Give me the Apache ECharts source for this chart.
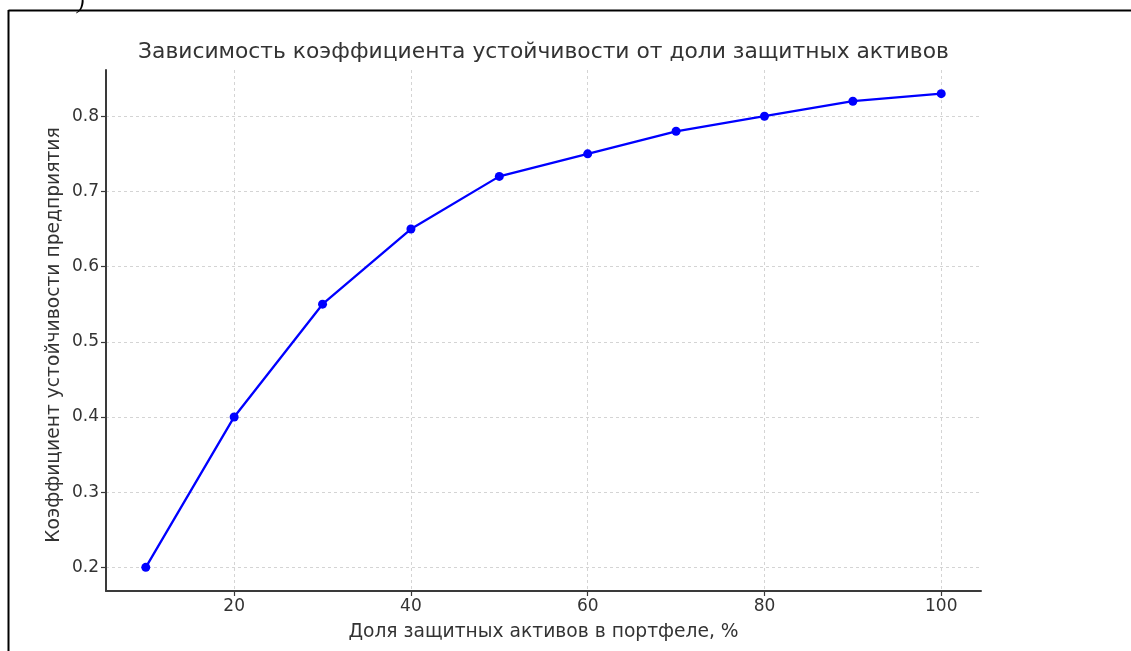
<!DOCTYPE html>
<html>
<head>
<meta charset="utf-8">
<script src="https://cdn.jsdelivr.net/npm/echarts@6/dist/echarts.min.js"></script>
<style>
html,body{margin:0;padding:0;background:#fff;}
#chart{width:1131px;height:651px;}
</style>
</head>
<body>
<div id="chart"></div>
<script>
// Data
var shareX = [10, 20, 30, 40, 50, 60, 70, 80, 90, 100];
var stabilityY = [0.20, 0.40, 0.55, 0.65, 0.72, 0.75, 0.78, 0.80, 0.82, 0.83];
var xTicks = [20, 40, 60, 80, 100];
var yTicks = [0.2, 0.3, 0.4, 0.5, 0.6, 0.7, 0.8];

var titleText = 'Зависимость коэффициента устойчивости от доли защитных активов';
var xName = 'Доля защитных активов в портфеле, %';
var yName = 'Коэффициент устойчивости предприятия';

var FONT = '"DejaVu Sans", sans-serif';
var chart = echarts.init(document.getElementById('chart'), null, {renderer: 'canvas'});

var gridLeft = 106, gridTop = 70, gridRight = 150, gridBottom = 60;

var points = shareX.map(function (x, i) { return [x, stabilityY[i]]; });

var option = {
  backgroundColor: '#fff',
  animation: false,
  grid: {left: gridLeft, top: gridTop, right: gridRight, bottom: gridBottom, containLabel: false},
  xAxis: {
    type: 'value',
    min: 5.5,
    max: 104.5,
    axisLine: {show: true, onZero: false, lineStyle: {color: '#3a3a3a', width: 2}},
    axisTick: {show: true, length: 5, lineStyle: {color: '#3a3a3a', width: 1.2}, customValues: xTicks},
    axisLabel: {
      customValues: xTicks,
      color: '#333', fontFamily: FONT, fontSize: 17, margin: 7,
      formatter: function (v) { return String(Math.round(v)); }
    },
    splitLine: {show: true, lineStyle: {color: '#d4d4d4', type: [3, 3], width: 1}}
  },
  yAxis: {
    type: 'value',
    min: 0.1685,
    max: 0.8615,
    axisLine: {show: true, onZero: false, lineStyle: {color: '#3a3a3a', width: 2}},
    axisTick: {show: true, length: 5, lineStyle: {color: '#3a3a3a', width: 1.2}, customValues: yTicks},
    axisLabel: {
      customValues: yTicks,
      color: '#333', fontFamily: FONT, fontSize: 17, margin: 7,
      formatter: function (v) { return v.toFixed(1); }
    },
    splitLine: {show: true, lineStyle: {color: '#d4d4d4', type: [3, 3], width: 1}}
  },
  series: [{
    type: 'line',
    data: points,
    symbol: 'circle',
    symbolSize: 9,
    showSymbol: true,
    lineStyle: {color: '#0000ff', width: 2.3},
    itemStyle: {color: '#0000ff'},
    z: 5
  }],
  graphic: [
    {type: 'line', shape: {x1: 8.5, y1: 10.5, x2: 1131, y2: 10.5}, style: {stroke: '#000', lineWidth: 2}},
    {type: 'line', shape: {x1: 8.5, y1: 10, x2: 8.5, y2: 651}, style: {stroke: '#000', lineWidth: 2}},
    {type: 'text', x: 77, y: -8, style: {text: ')', font: 'italic 22px "Liberation Serif", serif', fill: '#000'}},
    {type: 'text', x: 543.5, y: 52, style: {text: titleText, font: '21.8px ' + FONT, fill: '#333', textAlign: 'center', textVerticalAlign: 'middle'}},
    {type: 'text', x: 543.5, y: 632, style: {text: xName, font: '18.7px ' + FONT, fill: '#333', textAlign: 'center', textVerticalAlign: 'middle'}},
    {type: 'text', x: 54, y: 335, rotation: Math.PI / 2, style: {text: yName, font: '18.7px ' + FONT, fill: '#333', textAlign: 'center', textVerticalAlign: 'middle'}}
  ]
};
chart.setOption(option);
</script>
</body>
</html>
